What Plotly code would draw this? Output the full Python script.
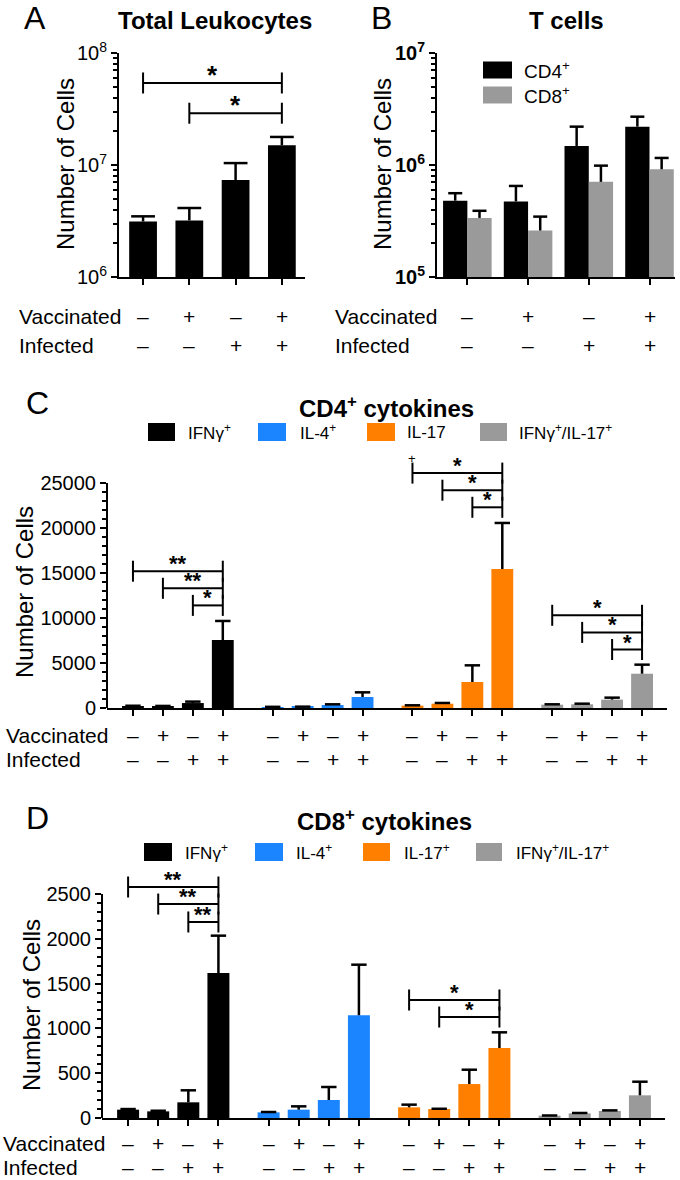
import numpy as np
import plotly.graph_objects as go

W, H = 680, 1180
FONT = "Liberation Sans, Arial, Helvetica, sans-serif"

# ------------------------------------------------------------------ data
vaccinated = ["–", "+", "–", "+"]
infected = ["–", "–", "+", "+"]
row_labels = ["Vaccinated", "Infected"]

# Panel A : total leukocytes
leuk_mean = [3.13e6, 3.2e6, 7.35e6, 1.5e7]
leuk_sem = [0.35e6, 0.93e6, 3.05e6, 2.8e6]
leuk_sig = [(0, 3, 5.4e7, "*"), (1, 3, 2.9e7, "*")]

# Panel B : T cells
tcell_names = ["CD4<sup>+</sup>", "CD8<sup>+</sup>"]
cd4_mean = [4.8e5, 4.73e5, 1.48e6, 2.2e6]
cd4_sem = [0.8e5, 1.77e5, 0.72e6, 0.5e6]
cd8_mean = [3.37e5, 2.6e5, 7.07e5, 9.16e5]
cd8_sem = [0.53e5, 0.86e5, 2.8e5, 2.4e5]

# Panel C : CD4+ cytokines
cd4c_names = ["IFNγ<sup>+</sup>", "IL-4<sup>+</sup>", "IL-17", "IFNγ<sup>+</sup>/IL-17<sup>+</sup>"]
cd4c_mean = [
    [220, 200, 550, 7550],
    [110, 130, 330, 1220],
    [260, 480, 2890, 15440],
    [370, 410, 930, 3810],
]
cd4c_sem = [
    [30, 30, 160, 2120],
    [20, 20, 80, 520],
    [40, 80, 1850, 5120],
    [40, 70, 220, 1005],
]
# (group, bar a, bar b, y, label)
cd4c_sig = [
    (0, 0, 3, 15200, "**"), (0, 1, 3, 13300, "**"), (0, 2, 3, 11400, "*"),
    (2, 0, 3, 26100, "*"), (2, 1, 3, 24200, "*"), (2, 2, 3, 22300, "*"),
    (3, 0, 3, 10300, "*"), (3, 1, 3, 8400, "*"), (3, 2, 3, 6500, "*"),
]

# Panel D : CD8+ cytokines
cd8c_names = ["IFNγ<sup>+</sup>", "IL-4<sup>+</sup>", "IL-17<sup>+</sup>", "IFNγ<sup>+</sup>/IL-17<sup>+</sup>"]
cd8c_mean = [
    [93, 74, 175, 1618],
    [63, 93, 201, 1146],
    [119, 100, 379, 781],
    [26, 52, 78, 253],
]
cd8c_sem = [
    [7, 7, 134, 417],
    [4, 37, 145, 565],
    [30, 3, 160, 175],
    [2, 4, 7, 152],
]
cd8c_sig = [
    (0, 0, 3, 2578, "**"), (0, 1, 3, 2388, "**"), (0, 2, 3, 2188, "**"),
    (2, 0, 3, 1317, "*"), (2, 1, 3, 1127, "*"),
]

colors = ["#000000", "#1a85ff", "#ff8000", "#9a9a9a"]
tcell_colors = ["#000000", "#9a9a9a"]

# ------------------------------------------------------------------ helpers
def px(x):
    return x / W

def py(y):
    return 1 - y / H

GROUP_STEP = 14 / 3  # bar slots between groups in panels C and D


def slot(g, i):
    return g * GROUP_STEP + i


fig = go.Figure()
annotations = []
shapes = []


def text(x, y, t, size, xref="paper", yref="paper", xanchor="center", yanchor="middle",
         bold=False, **kw):
    annotations.append(dict(
        x=x, y=y, xref=xref, yref=yref, text=f"<b>{t}</b>" if bold else t,
        showarrow=False, xanchor=xanchor, yanchor=yanchor,
        font=dict(family=FONT, size=size, color="black"), **kw))


def add_bars(xs, mean, sem, color, width, xaxis, yaxis, cap, offset=None, name=None):
    kw = {} if offset is None else dict(offset=offset)
    fig.add_trace(go.Bar(
        x=xs, y=mean, width=width, marker=dict(color=color, line=dict(width=0)),
        error_y=dict(type="data", array=sem, arrayminus=[0] * len(sem), symmetric=False,
                     color="black", thickness=2.5, width=0),
        xaxis=xaxis, yaxis=yaxis, showlegend=False, name=name, **kw))
    centre = xs if offset is None else [x + offset + width / 2 for x in xs]
    tops = [m + s for m, s in zip(mean, sem)]
    fig.add_trace(go.Scatter(
        x=centre, y=tops, mode="markers", xaxis=xaxis, yaxis=yaxis,
        marker=dict(symbol="line-ew-open", size=cap, color="black",
                    line=dict(color="black", width=2.5)),
        showlegend=False, hoverinfo="skip", cliponaxis=False))


def bracket(xa, xb, y, label, xaxis, yaxis, log, star_size, yshift):
    fig.add_trace(go.Scatter(
        x=[xa, xb], y=[y, y], mode="lines+markers", xaxis=xaxis, yaxis=yaxis,
        line=dict(color="black", width=2),
        marker=dict(symbol="line-ns-open", size=15, color="black",
                    line=dict(color="black", width=2)),
        showlegend=False, hoverinfo="skip", cliponaxis=False))
    text((xa + xb) / 2, np.log10(y) if log else y, label, star_size,
         xref=xaxis, yref=yaxis, yanchor="bottom", bold=True, yshift=yshift)


base_x = dict(showgrid=False, zeroline=False, showline=True, linecolor="black", linewidth=2,
              ticks="outside", ticklen=6, tickwidth=2, tickcolor="black",
              showticklabels=False, automargin=False)
base_y = dict(showgrid=False, zeroline=False, showline=True, linecolor="black", linewidth=2,
              ticks="outside", ticklen=6, tickwidth=2, tickcolor="black", automargin=False,
              tickfont=dict(family=FONT, size=20, color="black"))

# ------------------------------------------------------------------ panel A
xa_pos = list(range(4))
add_bars(xa_pos, leuk_mean, leuk_sem, "black", 0.6, "x", "y", 17)
for a, b, y, lab in leuk_sig:
    bracket(a, b, y, lab, "x", "y", True, 26, -9)

minor_log_A = [k * 10 ** e for e in (6, 7) for k in range(2, 10)]
fig.update_layout(
    xaxis=dict(base_x, domain=[px(119), px(305)], range=[-0.52, 3.5], tickvals=xa_pos, anchor="y"),
    yaxis=dict(base_y, domain=[py(277), py(53)], type="log", range=[6, 8],
               tickvals=[1e6, 1e7, 1e8],
               ticktext=["10<sup>6</sup>", "10<sup>7</sup>", "10<sup>8</sup>"],
               minor=dict(ticks="outside", ticklen=4, tickwidth=1.5, tickcolor="black",
                          tickvals=minor_log_A),
               anchor="x"),
)

# ------------------------------------------------------------------ panel B
xb_pos = list(range(4))
for k, (m, s) in enumerate([(cd4_mean, cd4_sem), (cd8_mean, cd8_sem)]):
    add_bars(xb_pos, m, s, tcell_colors[k], 0.4, "x2", "y2", 10,
             offset=-0.4 + 0.4 * k, name=tcell_names[k])
minor_log_B = [k * 10 ** e for e in (5, 6) for k in range(2, 10)]
fig.update_layout(
    xaxis2=dict(base_x, domain=[px(437), px(675)], range=[-0.5, 3.42], tickvals=xb_pos, anchor="y2"),
    yaxis2=dict(base_y, domain=[py(277), py(53)], type="log", range=[5, 7],
                tickvals=[1e5, 1e6, 1e7],
                ticktext=["<b>10<sup>5</sup></b>", "<b>10<sup>6</sup></b>", "<b>10<sup>7</sup></b>"],
                minor=dict(ticks="outside", ticklen=4, tickwidth=1.5, tickcolor="black",
                           tickvals=minor_log_B),
                anchor="x2"),
)

# ------------------------------------------------------------------ panels C and D
def cyto_panel(means, sems, sigs, xaxis, yaxis, star_size, yshift):
    allx = []
    for g in range(4):
        xs = [slot(g, i) for i in range(4)]
        allx += xs
        add_bars(xs, means[g], sems[g], colors[g], 0.73, xaxis, yaxis, 11)
    for g, a, b, y, lab in sigs:
        bracket(slot(g, a), slot(g, b), y, lab, xaxis, yaxis, False, star_size, yshift)
    return allx


xc = cyto_panel(cd4c_mean, cd4c_sem, cd4c_sig, "x3", "y3", 22, -7)
xd = cyto_panel(cd8c_mean, cd8c_sem, cd8c_sig, "x4", "y4", 22, -7)

yc_top, yd_top = 25000, 2500
fig.update_layout(
    xaxis3=dict(base_x, domain=[px(107), px(667)], range=[-0.867, 17.833], tickvals=xc, anchor="y3"),
    yaxis3=dict(base_y, showline=False, domain=[py(708), py(465)], range=[0, 27000],
                tickvals=list(range(0, yc_top + 1, 5000)), tickformat="d",
                minor=dict(ticks="outside", ticklen=4, tickwidth=1.5, tickcolor="black",
                           tickvals=list(range(0, yc_top + 1, 1000))),
                anchor="x3"),
    xaxis4=dict(base_x, domain=[px(102), px(665)], range=[-0.867, 17.833], tickvals=xd, anchor="y4"),
    yaxis4=dict(base_y, showline=False, domain=[py(1118), py(871.6)], range=[0, 2750],
                tickvals=list(range(0, yd_top + 1, 500)), tickformat="d",
                minor=dict(ticks="outside", ticklen=4, tickwidth=1.5, tickcolor="black",
                           tickvals=list(range(0, yd_top + 1, 100))),
                anchor="x4"),
)
for xr, yr, top in [("x3", "y3", yc_top), ("x4", "y4", yd_top)]:
    shapes.append(dict(type="line", xref=f"{xr} domain", yref=yr, x0=0, x1=0, y0=0, y1=top,
                       line=dict(color="black", width=2)))

# "+" mark above IL-17 bracket in C
text(slot(2, 0), py(458), "+", 13, xref="x3", yref="paper")

# ------------------------------------------------------------------ text: letters, titles, y titles
for letter, x, y in [("A", 35, 18), ("B", 381, 18), ("C", 37, 403), ("D", 37, 818)]:
    text(px(x), py(y), letter, 32)
text(px(215), py(21), "Total Leukocytes", 24, bold=True)
text(px(566), py(21), "T cells", 24, bold=True)
text(px(386), py(407), "CD4<sup>+</sup> cytokines", 24, bold=True)
text(px(384), py(820), "CD8<sup>+</sup> cytokines", 24, bold=True)
for x, y in [(65, 164), (382, 164), (24, 592), (32, 1005)]:
    text(px(x), py(y), "Number of Cells", 24, textangle=-90)

# ------------------------------------------------------------------ category sign rows
def sign_rows(xref, xs_groups, left, y1, y2):
    text(px(left), py(y1), row_labels[0], 21, xanchor="left")
    text(px(left), py(y2), row_labels[1], 21, xanchor="left")
    for xs in xs_groups:
        for i, xv in enumerate(xs):
            text(xv, py(y1), vaccinated[i], 21, xref=xref)
            text(xv, py(y2), infected[i], 21, xref=xref)


sign_rows("x", [xa_pos], 17, 316, 345)
sign_rows("x2", [xb_pos], 333, 316, 345)
sign_rows("x3", [[slot(g, i) for i in range(4)] for g in range(4)], 4, 735, 760)
sign_rows("x4", [[slot(g, i) for i in range(4)] for g in range(4)], 1, 1143, 1167)

# ------------------------------------------------------------------ legends (drawn)
def legend_item(x0, x1, yc, h, color, label, tx, size):
    shapes.append(dict(type="rect", xref="paper", yref="paper", x0=px(x0), x1=px(x1),
                       y0=py(yc + h / 2), y1=py(yc - h / 2),
                       fillcolor=color, line=dict(width=0)))
    text(px(tx), py(yc), label, size, xanchor="left")


legend_item(483, 512, 70, 17, tcell_colors[0], tcell_names[0], 522, 19)
legend_item(483, 512, 95, 17, tcell_colors[1], tcell_names[1], 522, 19)

for (x0, x1, tx), c, lab in zip([(148, 175, 186), (258, 286, 298), (367, 395, 405), (480, 507, 517)],
                                colors, cd4c_names):
    legend_item(x0, x1, 432, 18, c, lab, tx, 17)
for (x0, x1, tx), c, lab in zip([(144, 172, 183), (255, 283, 294), (363, 390, 402), (476, 502, 514)],
                                colors, cd8c_names):
    legend_item(x0, x1, 852, 18, c, lab, tx, 17)

fig.update_layout(
    template="none",
    width=W, height=H, margin=dict(l=0, r=0, t=0, b=0, pad=0, autoexpand=False),
    paper_bgcolor="white", plot_bgcolor="white",
    barmode="overlay", showlegend=False,
    font=dict(family=FONT, color="black"),
    annotations=annotations, shapes=shapes,
)

fig.write_html("out.html", config={"displayModeBar": False},
               post_script="document.body.style.margin='0';document.body.style.padding='0';"
                           "document.body.style.overflow='hidden';")
